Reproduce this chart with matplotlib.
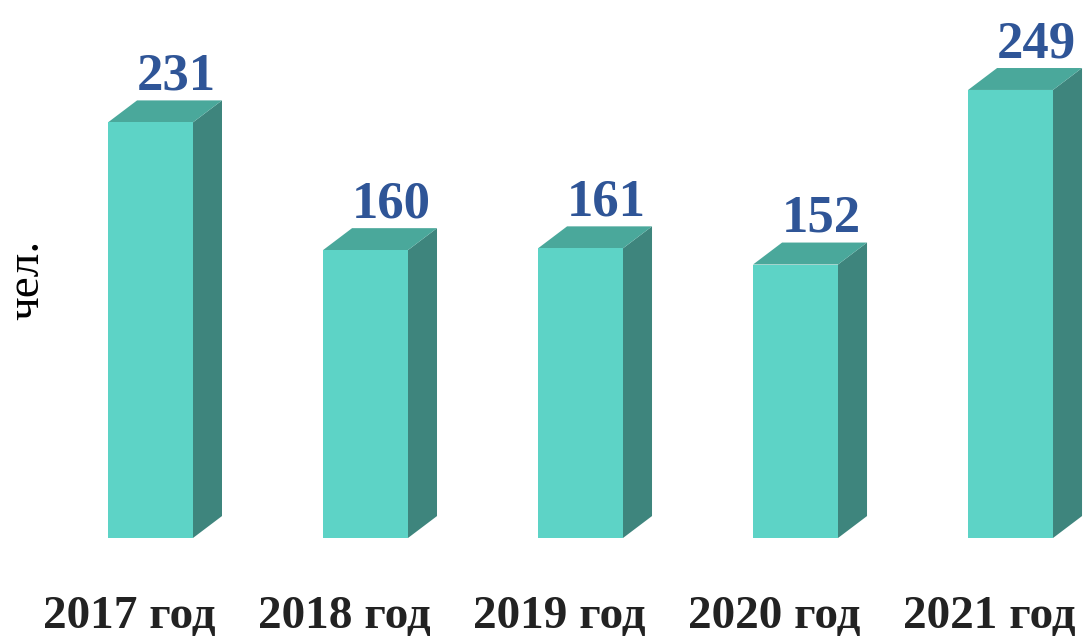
#
# plot.py - number of people per year, pseudo-3D bars
#
import numpy as np
import matplotlib
matplotlib.use('Agg')
import matplotlib.pyplot as plt
from matplotlib.patches import Polygon

# data
years = ['2017 год', '2018 год', '2019 год', '2020 год', '2021 год']
people = [231, 160, 161, 152, 249]

# colours
front_col = '#5DD3C6'
side_col = '#3E857D'
top_col = '#4AA89B'
value_col = '#2F5597'

plt.rcParams['font.family'] = ['Liberation Serif', 'DejaVu Serif']

fig = plt.figure(figsize=(10.83, 6.36), dpi=100)
# axes fills the figure above the baseline
ax = fig.add_axes([0, 98 / 636, 1, 538 / 636])
ax.set_xlim(-0.7, 4.337)
ax.set_ylim(0, 299)
ax.axis('off')

width = 0.395   # bar front width
dx = 0.135      # depth offset in x units
dy = 12.2       # depth offset in y units

x = np.arange(len(years))
ax.bar(x, people, width=width, color=front_col, zorder=3)

for xi, v in zip(x, people):
    left = xi - width / 2
    right = xi + width / 2
    # side face
    ax.add_patch(Polygon([(right, 0), (right + dx, dy), (right + dx, v + dy), (right, v)],
                         closed=True, facecolor=side_col, edgecolor='none', zorder=2))
    # top face
    ax.add_patch(Polygon([(left, v), (left + dx, v + dy), (right + dx, v + dy), (right, v)],
                         closed=True, facecolor=top_col, edgecolor='none', zorder=2))
    # value label
    ax.text(xi + 0.12, v + dy + 6, str(v), ha='center', va='baseline',
            fontsize=38, fontweight='bold', color=value_col, clip_on=False)

# category labels under the bars
for xi, lab in zip(x, years):
    ax.text(xi - 0.1, -50, lab, ha='center', va='baseline',
            fontsize=34, fontweight='bold', color='#222222', clip_on=False)

fig.text(27 / 1083, 1 - 280 / 636, 'чел.', rotation=90, ha='center', va='center',
         fontsize=34, color='black')

fig.savefig('out.png', dpi=100, facecolor='white')
